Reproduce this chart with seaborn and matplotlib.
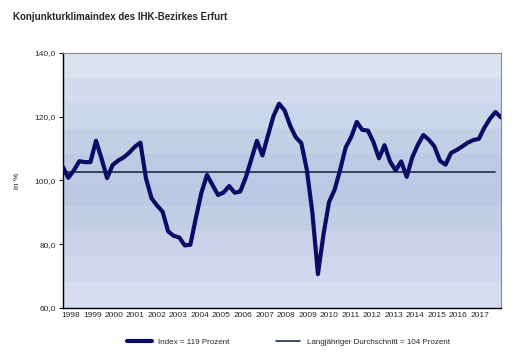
import numpy as np
import pandas as pd
import matplotlib
matplotlib.use("Agg")
import matplotlib.pyplot as plt
from matplotlib.colors import ListedColormap
import seaborn as sns

# quarterly index values 1998 Q1 .. 2017 Q4
index_values = [
    104.3, 100.8, 103.1, 106.0, 105.7, 105.7, 112.4, 106.8, 100.7, 104.8,
    106.2, 107.2, 108.7, 110.5, 111.8, 100.7, 94.4, 92.1, 90.2, 84.0,
    82.6, 82.1, 79.6, 79.8, 88.2, 96.1, 101.7, 98.5, 95.4, 96.2,
    98.2, 96.1, 96.5, 100.9, 106.6, 112.4, 107.8, 114.1, 120.2, 124.0,
    121.9, 117.1, 113.5, 111.7, 103.3, 89.8, 70.6, 83.0, 93.2, 97.0,
    103.3, 110.3, 113.6, 118.3, 115.8, 115.6, 112.0, 106.9, 111.0, 105.9,
    103.1, 105.9, 101.1, 107.2, 111.1, 114.2, 112.7, 110.6, 106.1, 104.9,
    108.6, 109.5, 110.6, 111.8, 112.6, 113.0, 116.5, 119.3, 121.4, 119.7,
]
average_value = 102.6
average_points = 79
years = [str(y) for y in range(1998, 2018)]
y_ticks = [60, 80, 100, 120, 140]

label_index = "Index = 119 Prozent"
label_avg = "Langjähriger Durchschnitt = 104 Prozent"

df = pd.DataFrame({"q": np.arange(len(index_values)), "value": index_values})
df_avg = pd.DataFrame({"q": np.arange(average_points), "value": [average_value] * average_points})

sns.set_style("white")
plt.rcParams["font.family"] = ["Liberation Sans", "DejaVu Sans"]

fig = plt.figure(figsize=(5.2, 3.56), dpi=100)
ax = fig.add_axes([0.1206, 0.135, 0.8429, 0.717])

# banded blue gradient background
band_cols = ["#dbe3f1", "#d3dcee", "#cad6ea", "#c2d0e6", "#bccbe3", "#bdc9e2",
             "#c3cde6", "#cad3ea", "#d1d8ed", "#d7dcef"]
grad = np.arange(len(band_cols)).reshape(-1, 1)
ax.imshow(grad, cmap=ListedColormap(band_cols), aspect="auto",
          extent=[0, len(index_values) - 1, 60, 140], origin="upper", zorder=0)

sns.lineplot(data=df_avg, x="q", y="value", ax=ax, color="#1c2c4c",
             linewidth=1.2, label=label_avg, zorder=2)
sns.lineplot(data=df, x="q", y="value", ax=ax, color="#0c0c66",
             linewidth=3.0, label=label_index, zorder=3,
             solid_joinstyle="round", solid_capstyle="round")

ax.set_xlim(0, len(index_values) - 1)
ax.set_ylim(60, 140)
ax.set_yticks(y_ticks)
ax.set_yticklabels([f"{v},0" for v in y_ticks], fontsize=6)
ax.set_xticks([1.45 + 3.88 * k for k in range(len(years))])
ax.set_xticklabels(years, fontsize=6)
ax.tick_params(axis="x", length=0, pad=3)
ax.tick_params(axis="y", length=3, width=0.8, color="black", direction="out", left=True, pad=2)
ax.set_xlabel("")
ax.set_ylabel("in %", fontsize=6)
ax.yaxis.set_label_coords(-0.095, 0.5)

for s in ["left", "bottom"]:
    ax.spines[s].set_color("black")
    ax.spines[s].set_linewidth(1.0)
for s in ["top", "right"]:
    ax.spines[s].set_color("#888888")
    ax.spines[s].set_linewidth(0.8)

handles, labels = ax.get_legend_handles_labels()
ax.get_legend().remove()
fig.legend(handles[::-1], labels[::-1], loc="center", bbox_to_anchor=(0.555, 0.04),
           ncol=2, frameon=False, fontsize=5.8, handlelength=3.0, columnspacing=5.8)

fig.text(0.025, 0.952, "Konjunkturklimaindex des IHK-Bezirkes Erfurt",
         fontsize=7, fontweight="bold", ha="left", va="center")

fig.savefig("out.png", dpi=100)
